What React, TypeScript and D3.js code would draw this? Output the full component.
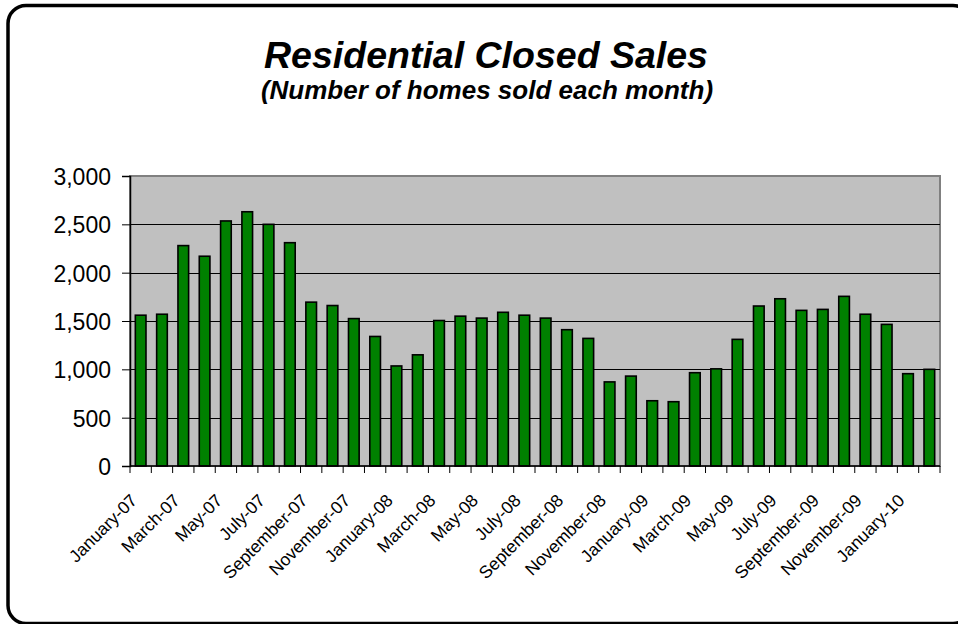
import * as d3 from "d3";
import { useEffect, useRef } from "react";

const months = [
    "January-07", "February-07", "March-07", "April-07", "May-07", "June-07",
    "July-07", "August-07", "September-07", "October-07", "November-07", "December-07",
    "January-08", "February-08", "March-08", "April-08", "May-08", "June-08",
    "July-08", "August-08", "September-08", "October-08", "November-08", "December-08",
    "January-09", "February-09", "March-09", "April-09", "May-09", "June-09",
    "July-09", "August-09", "September-09", "October-09", "November-09", "December-09",
    "January-10", "February-10",
];

// homes sold per month
const sales = [
    1560, 1570, 2280, 2170, 2535, 2630, 2500, 2310, 1695, 1660, 1525, 1340,
    1035, 1150, 1505, 1550, 1530, 1590, 1560, 1530, 1410, 1320, 870, 930,
    675, 665, 965, 1005, 1310, 1655, 1730, 1610, 1620, 1755, 1570, 1465,
    955, 1000,
];

const yTicks = [0, 500, 1000, 1500, 2000, 2500, 3000];

const title = "Residential Closed Sales";
const subtitle = "(Number of homes sold each month)";

const FONT = "'Liberation Sans', Arial, Helvetica, sans-serif";

export default function App() {
    const ref = useRef<SVGSVGElement | null>(null);

    useEffect(() => {
        if (!ref.current) return;
        const svg = d3.select(ref.current);
        svg.selectAll("*").remove();

        const width = 958;
        const height = 624;
        const plot = { left: 130, right: 940, top: 176, bottom: 466 };

        svg.attr("width", width).attr("height", height);

        // outer rounded frame (runs off the right/bottom edge like the original)
        svg.append("rect")
            .attr("x", 8)
            .attr("y", 5.5)
            .attr("width", 963)
            .attr("height", 618)
            .attr("rx", 18)
            .attr("fill", "#fff")
            .attr("stroke", "#000")
            .attr("stroke-width", 3.5);

        svg.append("text")
            .attr("x", 486)
            .attr("y", 68)
            .attr("text-anchor", "middle")
            .attr("font-family", FONT)
            .attr("font-size", 37.5)
            .attr("font-weight", "bold")
            .attr("font-style", "italic")
            .text(title);

        svg.append("text")
            .attr("x", 487)
            .attr("y", 99)
            .attr("text-anchor", "middle")
            .attr("font-family", FONT)
            .attr("font-size", 26)
            .attr("font-weight", "bold")
            .attr("font-style", "italic")
            .text(subtitle);

        const x = d3
            .scaleBand<string>()
            .domain(months)
            .range([plot.left, plot.right])
            .padding(0);
        const step = x.step();

        const y = d3
            .scaleLinear()
            .domain([0, 3000])
            .range([plot.bottom, plot.top]);

        // plot background + gray frame
        svg.append("rect")
            .attr("x", plot.left)
            .attr("y", plot.top)
            .attr("width", plot.right - plot.left)
            .attr("height", plot.bottom - plot.top)
            .attr("fill", "#C0C0C0")
            .attr("stroke", "#808080")
            .attr("stroke-width", 2);

        // gridlines
        svg.append("g")
            .selectAll("line")
            .data(yTicks.filter((t) => t > 0 && t < 3000))
            .join("line")
            .attr("x1", plot.left)
            .attr("x2", plot.right)
            .attr("y1", (d) => Math.round(y(d)) + 0.5)
            .attr("y2", (d) => Math.round(y(d)) + 0.5)
            .attr("stroke", "#000")
            .attr("stroke-width", 1);

        // bars
        svg.append("g")
            .selectAll("rect")
            .data(sales)
            .join("rect")
            .attr("x", (_, i) => x(months[i])! + step * 0.25)
            .attr("y", (d) => y(d))
            .attr("width", step * 0.5)
            .attr("height", (d) => y(0) - y(d))
            .attr("fill", "#008000")
            .attr("stroke", "#000")
            .attr("stroke-width", 1.6);

        // y axis
        const yAxis = svg
            .append("g")
            .attr("transform", `translate(${plot.left},0)`)
            .call(
                d3
                    .axisLeft(y)
                    .tickValues(yTicks)
                    .tickSize(8)
                    .tickPadding(11)
                    .tickFormat((d) => d3.format(",")(d as number)),
            );
        yAxis.select(".domain").attr("stroke", "#000").attr("stroke-width", 1.5);
        yAxis.selectAll(".tick line").attr("stroke", "#000");
        yAxis
            .selectAll(".tick text")
            .attr("font-family", FONT)
            .attr("font-size", 23)
            .attr("dy", "0.37em")
            .attr("fill", "#000");

        // x axis line and category boundary ticks
        svg.append("line")
            .attr("x1", plot.left)
            .attr("x2", plot.right)
            .attr("y1", plot.bottom)
            .attr("y2", plot.bottom)
            .attr("stroke", "#000")
            .attr("stroke-width", 1.5);

        const bounds = months.map((m) => x(m)!).concat([plot.right]);
        svg.append("g")
            .selectAll("line")
            .data(bounds)
            .join("line")
            .attr("x1", (d) => d)
            .attr("x2", (d) => d)
            .attr("y1", plot.bottom)
            .attr("y2", plot.bottom + 7)
            .attr("stroke", "#000")
            .attr("stroke-width", 1);

        // every other month label, rotated
        svg.append("g")
            .selectAll("text")
            .data(months.filter((_, i) => i % 2 === 0 && i < 37))
            .join("text")
            .attr("transform", (d) => {
                const cx = x(d)! + step / 2 - 2.5;
                return `translate(${cx},${plot.bottom + 35.5}) rotate(-45)`;
            })
            .attr("text-anchor", "end")
            .attr("font-family", FONT)
            .attr("font-size", 17.5)
            .attr("fill", "#000")
            .text((d) => d);
    }, []);

    return (
        <svg
            ref={ref}
            style={{ position: "absolute", left: 0, top: 0, display: "block" }}
        ></svg>
    );
}
